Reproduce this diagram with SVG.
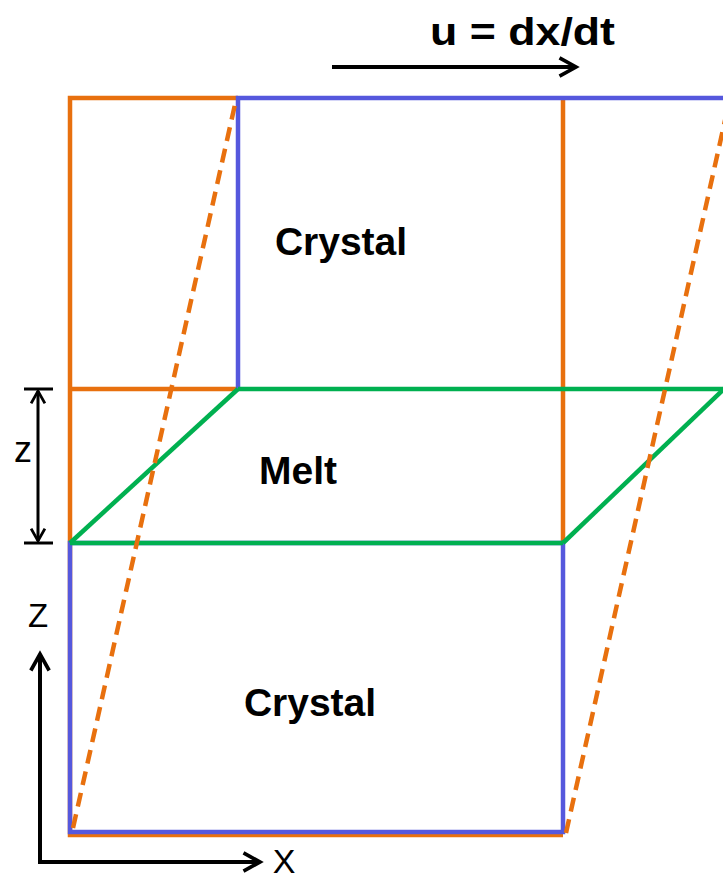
<svg xmlns="http://www.w3.org/2000/svg" width="723" height="880" viewBox="0 0 723 880">
<style>
.o{stroke:#E8700E;stroke-width:4.5;fill:none}
.od{stroke:#E8700E;stroke-width:4.5;fill:none;stroke-dasharray:14,8}
.b{stroke:#5558DD;stroke-width:4.5;fill:none}
.g{stroke:#00B050;stroke-width:4.5;fill:none}
.k{stroke:#000;stroke-width:4;fill:none}
.t{font-family:"Liberation Sans",Arial,sans-serif;font-weight:bold;font-size:39px;fill:#000}
.r{font-family:"Liberation Sans",Arial,sans-serif;fill:#000}
</style>
<defs>
<marker id="ah" viewBox="0 0 12 12" refX="10" refY="6" markerWidth="5.5" markerHeight="5.5" markerUnits="strokeWidth" orient="auto-start-reverse">
<path d="M1,1 L10,6 L1,11" fill="none" stroke="#000" stroke-width="2"/>
</marker>
</defs>
<g id="frame-orange">
<polyline class="o" points="563,835 70,835 70,98 238,98"/>
<line class="o" x1="70" y1="389" x2="238" y2="389"/>
<line class="o" x1="563" y1="98" x2="563" y2="543"/>
</g>
<g id="crystal-top">
<polyline class="b" points="238,389 238,98 723,98"/>
<text class="t" x="341" y="255" text-anchor="middle">Crystal</text>
</g>
<g id="crystal-bottom">
<rect class="b" x="70" y="543" width="493" height="289"/>
<text class="t" x="310" y="716" text-anchor="middle">Crystal</text>
</g>
<g id="melt">
<line class="g" x1="238" y1="389" x2="723" y2="389"/>
<line class="g" x1="70" y1="543" x2="563" y2="543"/>
<line class="g" x1="70" y1="543" x2="238" y2="389"/>
<line class="g" x1="563" y1="543" x2="728" y2="385"/>
<text class="t" x="298" y="484" text-anchor="middle">Melt</text>
</g>
<g id="connectors">
<line class="od" x1="73" y1="828" x2="236" y2="100"/>
<line class="od" x1="566" y1="833" x2="730" y2="98"/>
<line class="k" x1="332" y1="67" x2="576" y2="67" marker-end="url(#ah)"/>
<line stroke="#000" stroke-width="3" x1="38" y1="391" x2="38" y2="541" marker-start="url(#ah)" marker-end="url(#ah)"/>
<line stroke="#000" stroke-width="3" x1="24" y1="389" x2="53" y2="389"/>
<line stroke="#000" stroke-width="3" x1="24" y1="543" x2="53" y2="543"/>
<polyline class="k" points="40,655 40,862 260,862" marker-end="url(#ah)"/>
<line class="k" x1="40" y1="862" x2="40" y2="654" marker-end="url(#ah)"/>
</g>
<g id="labels">
<text class="t" x="430" y="45" font-size="35" textLength="185" lengthAdjust="spacingAndGlyphs">u = dx/dt</text>
<text class="r" x="23" y="462" font-size="36" text-anchor="middle">z</text>
<text class="r" x="38" y="627" font-size="33" text-anchor="middle">Z</text>
<text class="r" x="284" y="873" font-size="34" text-anchor="middle">X</text>
</g>
</svg>
